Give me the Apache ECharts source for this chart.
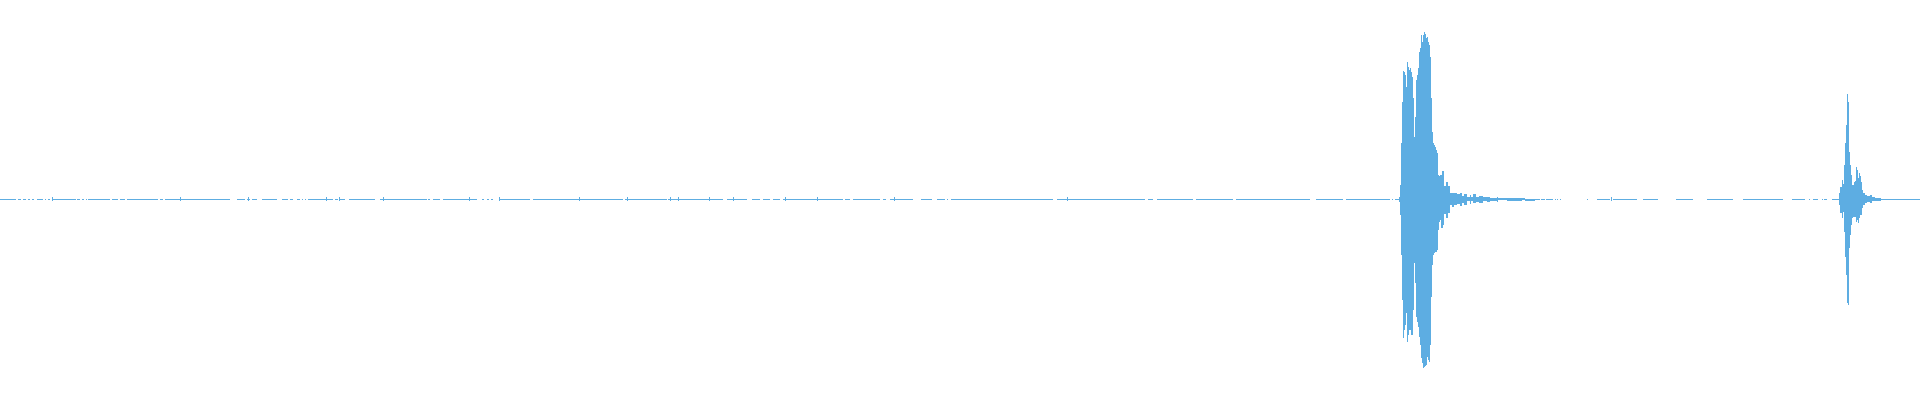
<!DOCTYPE html>
<html>
<head>
<meta charset="utf-8">
<script src="https://cdn.jsdelivr.net/npm/echarts@6/dist/echarts.min.js"></script>
<style>
html,body{margin:0;padding:0;background:#fff;}
#chart{width:1920px;height:400px;}
</style>
</head>
<body>
<div id="chart"></div>
<script>
// x in frames (0..1920), amplitude normalized (-1..1)
const frameCount = 1920;

// quiet background: [startFrame, endFrame]
const quietSegments = [
  [0,16],[18,21],[23,26],[28,30],[32,34],[37,43],[45,46],[48,50],[52,76],[77,80],[82,84],[86,87],
  [88,110],[112,118],[120,125],[127,158],[160,163],[165,230],[237,245],[247,250],[252,257],
  [262,277],[282,288],[290,293],[297,300],
  [302,303],[305,306],[308,333],[335,338],[340,345],[349,375],[380,427],[428,430],[433,440],
  [443,477],[482,484],[487,489],[491,493],[499,530],[533,580],
  [580,623],[625,667],[668,723],[727,747],[752,760],[763,770],[773,780],[783,843],[845,850],[853,860],
  [860,880],[883,886],[890,913],[921,932],[937,945],[947,948],[951,1053],[1057,1140],
  [1140,1145],[1148,1153],[1157,1193],[1196,1233],[1236,1310],[1316,1343],[1346,1390],[1392,1393],[1395,1399],
  [1535,1540],[1541,1545],[1546,1553],[1555,1556],[1557,1558],[1560,1561],
  [1587,1588],[1597,1610],[1613,1637],[1643,1658],[1676,1693],[1707,1733],[1743,1783],
  [1792,1805],[1809,1810],[1813,1818],[1822,1823],[1824,1827],[1832,1839],
  [1880,1892],[1892,1920]
];

// small isolated clicks (frames)
const clickFrames = [52,180,248,326,339,383,469,499,579,627,670,678,709,733,785,817,894,1067,1611];
const clickTop = 0.010;
const clickBottom = -0.012;

// first event (starts at frame 1399), per-frame max / min
const eventOneStart = 1399;
const eventOneMax = [
  0.010,0.070,0.281,0.487,0.643,0.638,0.623,0.563,0.688,0.663,
  0.648,0.658,0.638,0.613,0.508,0.312,0.412,0.598,0.623,0.658,
  0.739,0.759,0.824,0.789,0.824,0.839,0.829,0.809,0.814,0.789,
  0.774,0.714,0.508,0.337,0.281,0.271,0.261,0.246,0.231,0.121,
  0.116,0.121,0.121,0.141,0.141,0.065,0.065,0.085,0.085,0.065,
  0.065,0.030,0.030,0.030,0.030,0.030,0.030,0.030,0.025,0.025,
  0.025,0.030,0.030,0.015,0.015,0.025,0.025,0.025,0.010,0.010,
  0.010,0.020,0.010,0.010,0.025,0.025,0.025,0.010,0.010,0.010,
  0.015,0.015,0.015,0.015,0.010,0.010,0.010,0.010,0.010,0.010,
  0.010,0.005,0.005,0.005,0.005,0.005,0.005,0.005,0.010,0.005,
  0.005,0.005,0.005,0.005,0.005,0.005,0.005,0.005,0.005,0.005,
  0.005,0.005,0.005,0.005,0.005,0.005,0.005,0.005,0.005,0.005,
  0.005,0.005,0.005,0.005,0.005,0.005,0.002,0.002,0.002,0.002,
  0.002,0.002,0.002,0.002,0.002,0.002
];
const eventOneMin = [
  -0.015,-0.080,-0.281,-0.508,-0.698,-0.658,-0.633,-0.573,-0.719,-0.683,
  -0.658,-0.658,-0.683,-0.683,-0.558,-0.322,-0.422,-0.593,-0.618,-0.643,
  -0.693,-0.734,-0.799,-0.824,-0.849,-0.844,-0.839,-0.834,-0.794,-0.809,
  -0.819,-0.734,-0.492,-0.332,-0.281,-0.271,-0.266,-0.266,-0.256,-0.156,
  -0.116,-0.106,-0.146,-0.146,-0.131,-0.075,-0.075,-0.095,-0.095,-0.070,
  -0.070,-0.030,-0.030,-0.040,-0.040,-0.030,-0.030,-0.030,-0.025,-0.025,
  -0.025,-0.035,-0.035,-0.020,-0.020,-0.030,-0.030,-0.030,-0.010,-0.010,
  -0.010,-0.025,-0.010,-0.010,-0.020,-0.020,-0.020,-0.015,-0.015,-0.015,
  -0.020,-0.020,-0.020,-0.020,-0.010,-0.010,-0.010,-0.010,-0.015,-0.015,
  -0.015,-0.010,-0.010,-0.010,-0.010,-0.010,-0.010,-0.010,-0.015,-0.005,
  -0.005,-0.005,-0.005,-0.005,-0.005,-0.005,-0.005,-0.005,-0.010,-0.010,
  -0.010,-0.010,-0.010,-0.010,-0.010,-0.010,-0.010,-0.010,-0.010,-0.010,
  -0.010,-0.010,-0.010,-0.005,-0.005,-0.005,-0.010,-0.010,-0.010,-0.010,
  -0.010,-0.010,-0.010,-0.010,-0.010,-0.010
];

// second event (starts at frame 1839)
const eventTwoStart = 1839;
const eventTwoMax = [
  0.030,0.060,0.060,0.095,0.075,0.171,0.281,0.372,0.528,0.487,
  0.236,0.171,0.121,0.070,0.070,0.085,0.090,0.161,0.146,0.106,
  0.131,0.116,0.085,0.045,0.030,0.030,0.020,0.020,0.015,0.015,
  0.015,0.020,0.020,0.010,0.010,0.010,0.005,0.005,0.005,0.005,
  0.005,0.005
];
const eventTwoMin = [
  -0.030,-0.070,-0.070,-0.095,-0.065,-0.166,-0.291,-0.382,-0.523,-0.533,
  -0.246,-0.181,-0.131,-0.095,-0.090,-0.090,-0.090,-0.116,-0.106,-0.121,
  -0.095,-0.080,-0.080,-0.045,-0.030,-0.030,-0.020,-0.020,-0.015,-0.015,
  -0.015,-0.020,-0.020,-0.010,-0.010,-0.010,-0.010,-0.010,-0.010,-0.010,
  -0.010,-0.010
];

const waveColor = '#5dade2';

const items = [];
quietSegments.forEach(s => items.push([s[0], s[1], 0, -0.004]));
clickFrames.forEach(f => items.push([f, f + 1, clickTop, clickBottom]));
eventOneMax.forEach((v, i) => items.push([eventOneStart + i, eventOneStart + i + 1, v, eventOneMin[i]]));
eventTwoMax.forEach((v, i) => items.push([eventTwoStart + i, eventTwoStart + i + 1, v, eventTwoMin[i]]));

function renderItem(params, api) {
  const p0 = api.coord([api.value(0), api.value(2)]);
  const p1 = api.coord([api.value(1), api.value(3)]);
  const left = Math.round(p0[0]);
  const right = Math.max(left + 1, Math.round(p1[0]));
  const top = Math.round(p0[1]);
  const bottom = Math.max(top + 1, Math.round(p1[1]));
  return {
    type: 'rect',
    shape: { x: left, y: top, width: right - left, height: bottom - top },
    style: { fill: waveColor }
  };
}

const chart = echarts.init(document.getElementById('chart'), null, { renderer: 'canvas' });
chart.setOption({
  animation: false,
  backgroundColor: '#ffffff',
  grid: { left: 0, right: 0, top: 0, bottom: 2 },
  xAxis: { type: 'value', min: 0, max: frameCount, show: false },
  yAxis: { type: 'value', min: -1, max: 1, show: false },
  series: [{
    type: 'custom',
    renderItem: renderItem,
    encode: { x: [0, 1], y: [2, 3] },
    data: items,
    silent: true
  }]
});
</script>
</body>
</html>
